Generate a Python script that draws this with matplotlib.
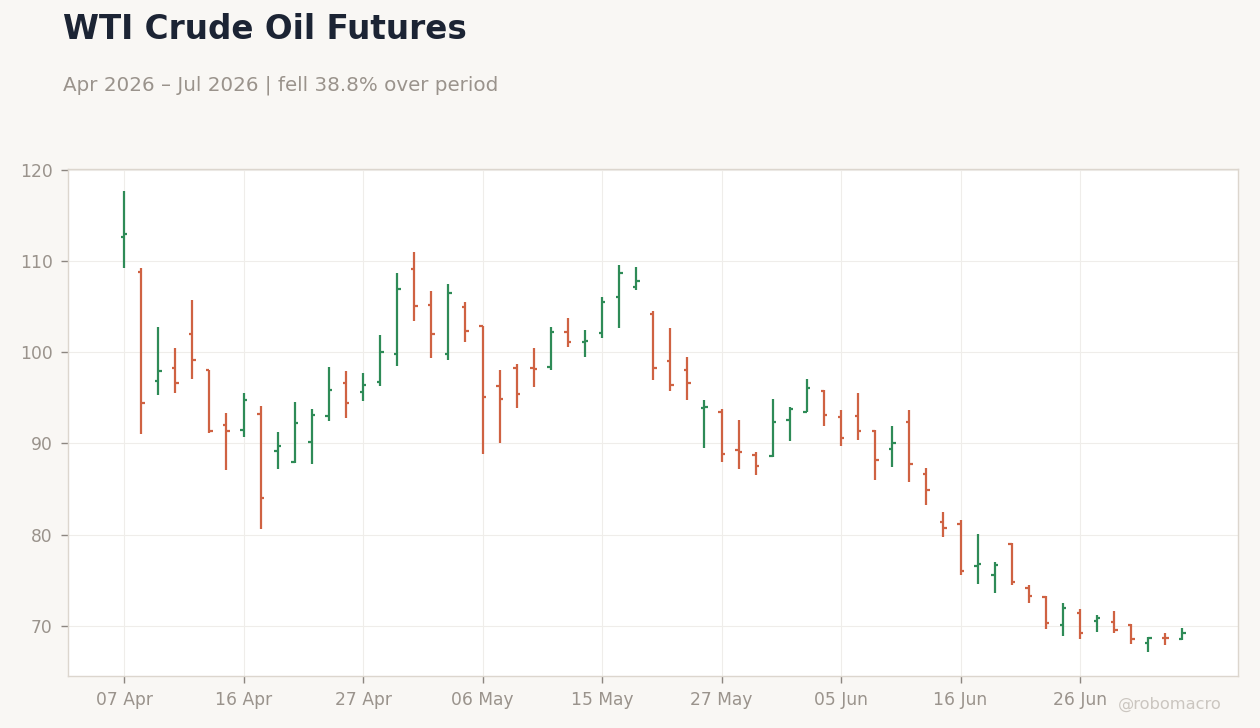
import matplotlib
matplotlib.use("Agg")
import matplotlib.pyplot as plt
import numpy as np

# ---- data ----
opens = [112.66, 108.83, 96.90, 98.32, 102.04, 98.10, 92.08, 91.53, 93.28, 89.12,
         87.99, 90.11, 92.96, 96.68, 95.69, 96.79, 99.85, 109.16, 105.22, 99.85,
         105.00, 102.85, 96.35, 98.32, 98.32, 98.43, 102.26, 101.17, 102.15, 106.09,
         107.19, 104.23, 99.09, 98.10, 93.90, 93.50, 89.23, 88.69, 88.58, 92.52,
         93.45, 95.80, 92.92, 93.03, 91.42, 89.42, 92.30, 86.68, 81.42, 81.20,
         76.61, 75.62, 79.01, 74.20, 73.21, 70.04, 71.39, 70.58, 70.47, 70.04,
         68.07, 68.72, 68.61]
highs = [117.66, 109.23, 102.77, 100.47, 105.73, 98.10, 93.32, 95.55, 94.12, 91.28,
         94.56, 93.80, 98.39, 97.96, 97.74, 101.90, 108.69, 110.99, 106.72, 107.48,
         105.51, 102.85, 98.07, 98.72, 100.47, 102.74, 103.76, 102.45, 106.06, 109.56,
         109.34, 104.53, 102.66, 99.49, 94.78, 93.80, 92.59, 89.09, 94.89, 94.01,
         97.06, 95.91, 93.65, 95.51, 91.53, 91.90, 93.65, 87.30, 82.48, 81.61,
         80.07, 76.97, 79.09, 74.49, 73.25, 72.51, 71.86, 71.20, 71.64, 70.22,
         68.80, 69.23, 69.78]
lows = [109.27, 91.09, 95.36, 95.58, 97.12, 91.20, 87.04, 90.66, 80.65, 87.15,
        87.85, 87.70, 92.41, 92.74, 94.71, 96.35, 98.54, 103.47, 99.42, 99.20,
        101.17, 88.80, 90.00, 93.94, 96.24, 98.10, 100.62, 99.53, 101.61, 102.70,
        106.86, 97.01, 95.80, 94.82, 89.45, 87.92, 87.15, 86.50, 88.47, 90.22,
        93.45, 91.93, 89.74, 90.36, 86.02, 87.45, 85.80, 83.28, 79.78, 75.62,
        74.64, 73.65, 74.53, 72.55, 69.71, 68.94, 68.61, 69.38, 69.27, 67.96,
        67.08, 67.85, 68.50]
closes = [112.99, 94.49, 97.99, 96.68, 99.20, 91.42, 91.42, 94.82, 84.04, 89.67,
          92.19, 93.07, 95.91, 94.49, 96.42, 100.07, 106.97, 105.11, 102.04, 106.53,
          102.37, 95.15, 94.93, 95.47, 98.21, 102.26, 101.17, 101.28, 105.55, 108.72,
          107.85, 98.32, 96.46, 96.68, 94.00, 88.80, 89.01, 87.48, 92.30, 93.83,
          96.11, 93.14, 90.62, 91.35, 88.21, 90.07, 87.77, 84.93, 80.77, 76.06,
          76.82, 76.72, 74.85, 73.32, 70.36, 72.01, 69.27, 70.84, 69.60, 68.61,
          68.72, 68.65, 69.27]
tick_labels = ['07 Apr', '16 Apr', '27 Apr', '06 May', '15 May', '27 May',
               '05 Jun', '16 Jun', '26 Jun']
y_ticks = [70, 80, 90, 100, 110, 120]

title = "WTI Crude Oil Futures"
subtitle = "Apr 2026 \u2013 Jul 2026 | fell 38.8% over period"

# ---- style ----
BG = "#f9f7f4"
UP = "#2e8b57"
DOWN = "#cf6242"
GRID = "#efedea"
SPINE = "#dcd6ce"
TXT = "#9a938c"

plt.rcParams['font.family'] = ['DejaVu Sans']

fig = plt.figure(figsize=(12.6, 7.28), dpi=100, facecolor=BG)
ax = fig.add_axes([0.054, 0.0714, 0.9286, 0.6965])
ax.set_facecolor("white")

x = np.arange(len(opens))
o = np.array(opens); h = np.array(highs); l = np.array(lows); c = np.array(closes)
colors = np.where(c >= o, UP, DOWN)
w = 0.2
lw = 1.6
ax.vlines(x, l, h, colors=colors, linewidth=lw, zorder=3)
ax.hlines(o, x - w, x, colors=colors, linewidth=lw, zorder=3)
ax.hlines(c, x, x + w, colors=colors, linewidth=lw, zorder=3)

ax.set_xlim(-3.28, 65.26)
ax.set_ylim(64.5, 120.1)
ax.set_xticks(np.arange(0, len(opens), 7)[:len(tick_labels)])
ax.set_xticklabels(tick_labels)
ax.set_yticks(y_ticks)
ax.grid(True, color=GRID, linewidth=0.8, zorder=0)
ax.set_axisbelow(True)
for s in ax.spines.values():
    s.set_color(SPINE)
    s.set_linewidth(1.0)
ax.tick_params(axis='both', colors=TXT, labelsize=12.3, length=5, width=1, pad=6)
ax.tick_params(axis='both', color="#8c8680")

fig.text(0.05, 0.960, title, fontsize=23.5, fontweight='bold', color="#1c2434",
         ha='left', va='center')
fig.text(0.05, 0.883, subtitle, fontsize=14.3, color=TXT, ha='left', va='center')
fig.text(0.887, 0.032, "@robomacro", fontsize=11.7, color="#cbc6c0", ha='left',
         va='center')

fig.savefig("out.png", dpi=100, facecolor=BG)
